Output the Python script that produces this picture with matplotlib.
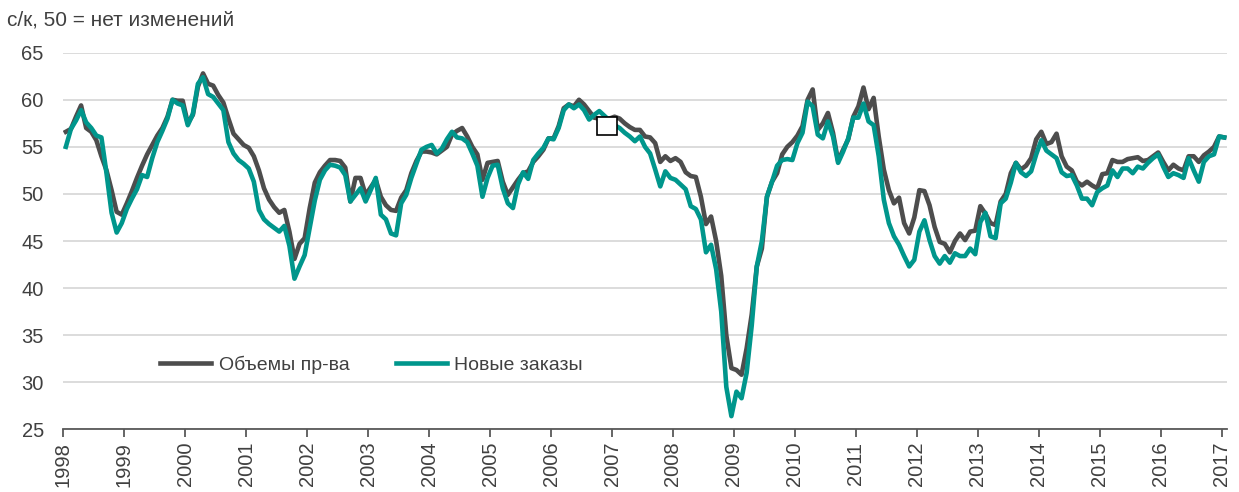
import matplotlib
matplotlib.use("Agg")
import matplotlib.pyplot as plt
import numpy as np
from matplotlib.patches import Rectangle

plt.rcParams["font.family"] = ["Liberation Sans", "DejaVu Sans"]

years = list(range(1998, 2018))

# monthly values, Jan 1998 .. Jan 2017
output = [
    56.6, 56.9, 58.2, 59.4, 57.0, 56.6, 55.7, 54.0, 52.5, 50.4, 48.1, 47.8,  # 1998
    49.0, 50.3, 51.7, 53.0, 54.2, 55.2, 56.2, 57.0, 58.2, 60.0, 59.9, 59.9,  # 1999
    57.5, 58.4, 61.4, 62.8, 61.7, 61.5, 60.5, 59.7, 58.0, 56.4, 55.8, 55.2,  # 2000
    54.9, 54.0, 52.5, 50.6, 49.4, 48.6, 48.0, 48.3, 46.0, 43.1, 44.7, 45.3,  # 2001
    48.5, 51.2, 52.3, 53.0, 53.6, 53.6, 53.5, 52.8, 49.2, 51.7, 51.7, 49.9,  # 2002
    50.7, 51.5, 49.7, 48.8, 48.3, 48.2, 49.6, 50.4, 52.2, 53.5, 54.5, 54.5,  # 2003
    54.4, 54.2, 54.6, 55.0, 56.3, 56.7, 57.0, 56.1, 55.0, 54.2, 51.5, 53.3,  # 2004
    53.4, 53.5, 51.3, 49.9, 50.7, 51.5, 52.2, 52.4, 53.4, 54.0, 54.7, 55.9,  # 2005
    55.9, 57.2, 59.1, 59.5, 59.3, 60.0, 59.5, 58.8, 58.1, 58.0, 57.9, 58.0,  # 2006
    58.2, 58.0, 57.5, 57.1, 56.8, 56.8, 56.1, 56.0, 55.4, 53.4, 54.0, 53.5,  # 2007
    53.8, 53.4, 52.3, 51.9, 51.8, 49.7, 46.8, 47.6, 45.0, 41.3, 35.0, 31.5,  # 2008
    31.3, 30.8, 33.6, 37.2, 42.3, 44.2, 49.7, 51.3, 52.2, 54.2, 55.0, 55.5,  # 2009
    56.2, 57.2, 60.0, 61.1, 56.8, 57.5, 58.6, 56.5, 53.5, 54.7, 55.8, 58.2,  # 2010
    59.3, 61.3, 59.0, 60.2, 56.1, 52.6, 50.4, 49.0, 49.6, 46.9, 45.8, 47.5,  # 2011
    50.4, 50.3, 48.8, 46.5, 44.9, 44.7, 43.8, 45.0, 45.8, 45.1, 46.0, 46.1,  # 2012
    48.7, 47.9, 46.9, 46.7, 49.2, 50.0, 52.2, 53.3, 52.6, 53.0, 53.8, 55.8,  # 2013
    56.6, 55.3, 55.5, 56.4, 54.0, 52.9, 52.5, 51.3, 50.9, 51.3, 50.9, 50.6,  # 2014
    52.1, 52.2, 53.6, 53.4, 53.4, 53.7, 53.8, 53.9, 53.5, 53.6, 54.0, 54.4,  # 2015
    53.4, 52.5, 53.1, 52.7, 52.5, 54.0, 54.0, 53.4, 54.1, 54.5, 55.0, 56.1,  # 2016
    56.0,                                                                    # 2017
]

new_orders = [
    55.0, 56.9, 57.8, 58.9, 57.6, 57.0, 56.2, 56.0, 52.2, 48.0, 45.9, 46.9,  # 1998
    48.4, 49.5, 50.5, 52.0, 51.8, 53.8, 55.5, 56.7, 58.0, 60.0, 59.6, 59.4,  # 1999
    57.3, 58.5, 61.7, 62.4, 60.6, 60.3, 59.6, 58.9, 55.5, 54.3, 53.6, 53.2,  # 2000
    52.7, 51.3, 48.3, 47.3, 46.8, 46.4, 46.0, 46.6, 44.5, 41.0, 42.3, 43.5,  # 2001
    46.4, 49.3, 51.5, 52.5, 53.1, 53.0, 52.8, 52.0, 49.2, 49.9, 50.6, 49.2,  # 2002
    50.4, 51.7, 47.8, 47.3, 45.8, 45.6, 49.0, 49.9, 51.7, 53.2, 54.7, 55.0,  # 2003
    55.2, 54.3, 54.8, 55.8, 56.6, 56.0, 55.9, 55.5, 54.3, 53.0, 49.7, 51.7,  # 2004
    53.0, 53.1, 50.6, 49.0, 48.5, 51.0, 52.3, 51.6, 53.6, 54.3, 54.9, 55.9,  # 2005
    55.8, 57.0, 58.9, 59.5, 59.1, 59.5, 58.9, 57.9, 58.4, 58.8, 58.3, 57.8,  # 2006
    57.3, 57.0, 56.5, 56.1, 55.6, 56.1, 55.0, 54.3, 52.6, 50.8, 52.4, 51.7,  # 2007
    51.5, 51.0, 50.5, 48.7, 48.4, 47.3, 43.8, 44.6, 42.0, 37.5, 29.5, 26.4,  # 2008
    29.0, 28.3, 31.0, 36.0, 42.3, 45.0, 49.7, 51.3, 53.0, 53.6, 53.7, 53.6,  # 2009
    55.4, 56.5, 59.8, 59.3, 56.3, 55.9, 57.7, 56.1, 53.3, 54.5, 55.9, 58.1,  # 2010
    58.1, 59.6, 57.7, 57.3, 54.0, 49.4, 46.9, 45.5, 44.6, 43.4, 42.3, 43.0,  # 2011
    46.0, 47.2, 45.1, 43.4, 42.6, 43.4, 42.7, 43.7, 43.4, 43.4, 44.2, 43.6,  # 2012
    47.0, 48.0, 45.5, 45.3, 49.0, 49.5, 51.2, 53.3, 52.3, 51.9, 52.4, 54.2,  # 2013
    55.7, 54.6, 54.2, 53.8, 52.3, 51.9, 52.0, 50.9, 49.5, 49.5, 48.8, 50.2,  # 2014
    50.6, 50.9, 52.5, 51.8, 52.7, 52.7, 52.2, 52.9, 52.7, 53.3, 53.8, 54.2,  # 2015
    52.9, 51.8, 52.2, 52.0, 51.7, 53.8, 52.5, 51.3, 53.4, 54.0, 54.2, 56.1,  # 2016
    56.0,                                                                    # 2017
]

series_names = ["Объемы пр-ва", "Новые заказы"]
series_colors = ["#4d4d4d", "#00968c"]

# category axis: each month centred in its slot
x = np.arange(len(output)) + 0.5

fig = plt.figure(figsize=(12.39, 4.92), dpi=100)
ax = fig.add_axes([0.0511, 0.1274, 0.9390, 0.7655])

for vals, name, col in zip([output, new_orders], series_names, series_colors):
    ax.plot(x, vals, color=col, lw=3.3, label=name, solid_joinstyle="round")

ax.set_xlim(0, len(output))
ax.set_ylim(25, 65)
ax.set_yticks(range(25, 70, 5))
ax.set_xticks([12 * i for i in range(len(years))])
ax.set_xticklabels([str(y) for y in years], rotation=90, va="top", ha="center")

ax.grid(axis="y", color="#d9d9d9", lw=1.3)
ax.set_axisbelow(True)
for s in ["top", "right", "left"]:
    ax.spines[s].set_visible(False)
ax.spines["bottom"].set_color("#595959")
ax.spines["bottom"].set_linewidth(1.3)
ax.tick_params(axis="y", length=0, labelsize=14.5, labelcolor="#404040", pad=14)
ax.tick_params(axis="x", length=6, width=1.3, color="#595959", labelsize=14.5,
               labelcolor="#404040", pad=3)

fig.text(0.006, 0.960, "с/к, 50 = нет изменений", fontsize=15, color="#404040",
         ha="left", va="center")

leg = ax.legend(loc="center", bbox_to_anchor=(0.265, 0.171), ncol=2, frameon=False,
                fontsize=14, handlelength=2.6, handletextpad=0.4, columnspacing=2.4)
for t in leg.get_texts():
    t.set_color("#404040")

# white marker box on the chart
ax.add_patch(Rectangle((0.4587, 0.7815), 0.0172, 0.0478, transform=ax.transAxes,
                       facecolor="white", edgecolor="black", lw=1.2, zorder=5))

fig.savefig("out.png", dpi=100)
